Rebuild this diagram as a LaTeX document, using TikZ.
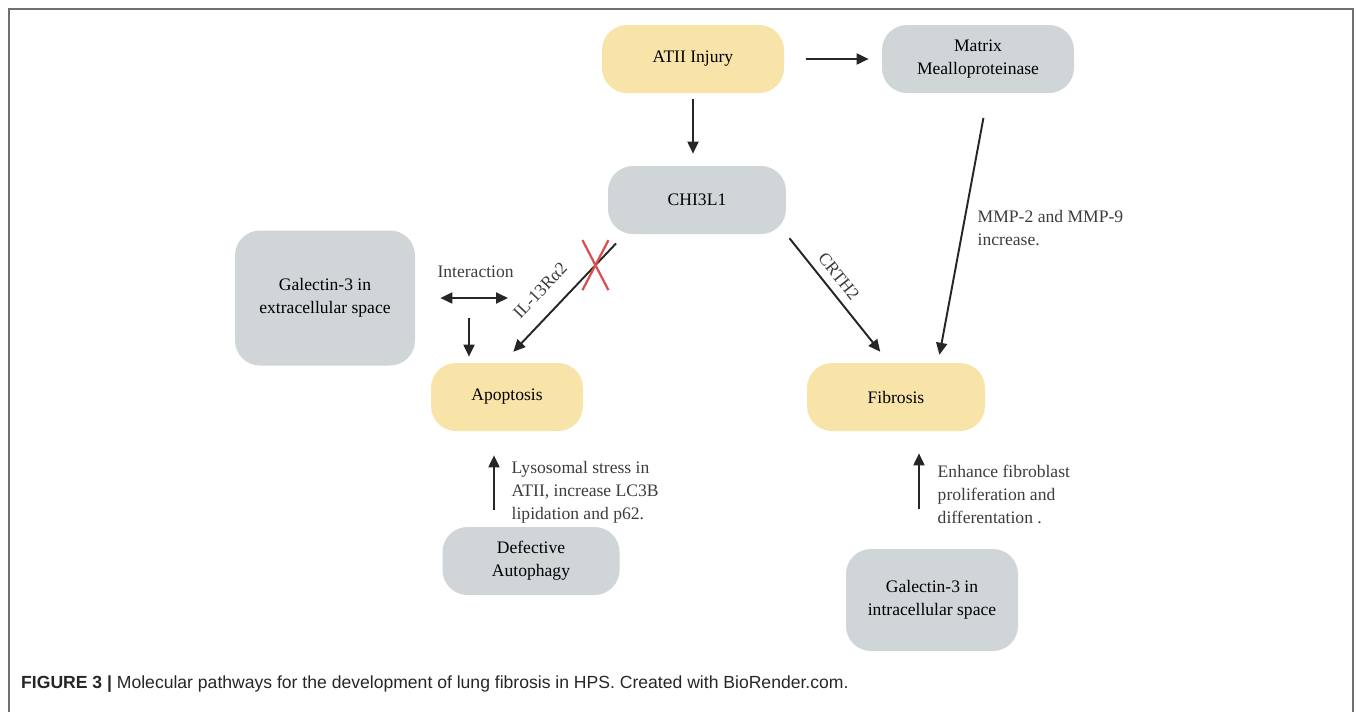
\documentclass[tikz,border=0pt]{standalone}
\usepackage{fontspec}
\setmainfont{Liberation Serif}
\newfontfamily\capfont{Liberation Sans}
\usetikzlibrary{arrows.meta}
\definecolor{injury}{HTML}{F8E3A9}
\definecolor{cellgray}{HTML}{D0D5D8}
\definecolor{labelgray}{HTML}{3C3C3C}
\definecolor{framegray}{HTML}{707070}
\definecolor{crossred}{HTML}{D9504E}
\begin{document}
\begin{tikzpicture}[x=0.2mm,y=-0.2mm,
    box/.style={rounded corners=5mm,minimum height=13.6mm,align=center,
      font=\fontsize{10}{13}\selectfont,text=black},
    yellowbox/.style={box,fill=injury},
    graybox/.style={box,fill=cellgray},
    arr/.style={-{Triangle[length=2.4mm,width=2.2mm]},line width=1.1pt,black!85},
    darr/.style={{Triangle[length=2.4mm,width=2.2mm]}-{Triangle[length=2.4mm,width=2.2mm]},
      line width=1.1pt,black!85},
    lbl/.style={font=\fontsize{10}{13}\selectfont,text=labelgray,align=left,inner sep=1pt}]
  \useasboundingbox (0,0) rectangle (1355,712);
  \draw[framegray,line width=0.4mm] (9,712) -- (9,9) -- (1353,9) -- (1353,712);
  \node[yellowbox,minimum width=36.4mm] (atii) at (693,59) {ATII Injury};
  \node[graybox,minimum width=38.4mm] (mmp) at (978,59) {Matrix\\Mealloproteinase};
  \node[graybox,minimum width=35.6mm] (chi) at (697,200) {CHI3L1};
  \node[graybox,minimum width=36mm,minimum height=27mm] (galex) at (325,298) {Galectin-3 in\\extracellular space};
  \node[yellowbox,minimum width=30.4mm] (apo) at (507,397) {Apoptosis};
  \node[yellowbox,minimum width=35.6mm] (fib) at (896,397) {Fibrosis};
  \node[graybox,minimum width=35.4mm] (defa) at (531,561) {Defective\\Autophagy};
  \node[graybox,minimum width=34.4mm,minimum height=20.4mm] (galin) at (932,600) {Galectin-3 in\\intracellular space};
  \coordinate (inter) at (508,298);
  \coordinate (gdown) at (469,318);
  \draw[arr,shorten <=4.4mm,shorten >=2.6mm] (atii.east) -- (mmp.west);
  \draw[arr,shorten <=1.2mm,shorten >=2.4mm] (atii.south) -- (atii.south |- chi.north);
  \draw[arr,shorten <=5mm,shorten >=1.6mm] ([xshift=2mm]mmp.south) -- ([xshift=8.4mm]fib.north)
    node[lbl,pos=0.5,anchor=west,xshift=2.4mm] {MMP-2 and MMP-9\\increase.};
  \draw[arr,shorten <=1mm,shorten >=2.8mm] (chi.south east) -- ([xshift=-1.4mm]fib.north)
    node[lbl,sloped,above=1.2mm,pos=0.4] {CRTH2};
  \draw[arr,shorten <=2.5mm,shorten >=3mm] ([xshift=3.4mm]chi.south west) -- ([xshift=-0.8mm]apo.north)
    coordinate[pos=0.24] (block)
    node[lbl,sloped,above=2.8mm,pos=0.56] {IL-13Rα2};
  \draw[crossred,line width=0.45mm] (block) ++(-13,-25) -- ++(26,50)
    (block) ++(13,-25) -- ++(-26,50);
  \draw[darr,shorten <=5mm] (galex.east) -- (inter)
    node[lbl,pos=0.65,yshift=5.2mm] {Interaction};
  \draw[arr,shorten >=1.2mm] (gdown) -- (gdown |- apo.north);
  \draw[arr,shorten <=3.4mm,shorten >=4.8mm] ([xshift=-7.4mm]defa.north) -- ([xshift=-7.4mm]defa.north |- apo.south)
    node[lbl,pos=0.71,anchor=north west,xshift=3mm] {Lysosomal stress in\\ATII, increase LC3B\\lipidation and p62.};
  \draw[arr,shorten <=8mm,shorten >=4.4mm] ([xshift=-2.6mm]galin.north) -- ([xshift=-2.6mm]galin.north |- fib.south)
    node[lbl,pos=0.735,anchor=north west,xshift=3.2mm] {Enhance fibroblast\\proliferation and\\differentation .};
  \node[anchor=west,font=\capfont\fontsize{10}{12}\selectfont,text=black!85] (cap) at (15,684)
    {\textbf{FIGURE 3 |} Molecular pathways for the development of lung fibrosis in HPS. Created with BioRender.com.};
\end{tikzpicture}
\end{document}
